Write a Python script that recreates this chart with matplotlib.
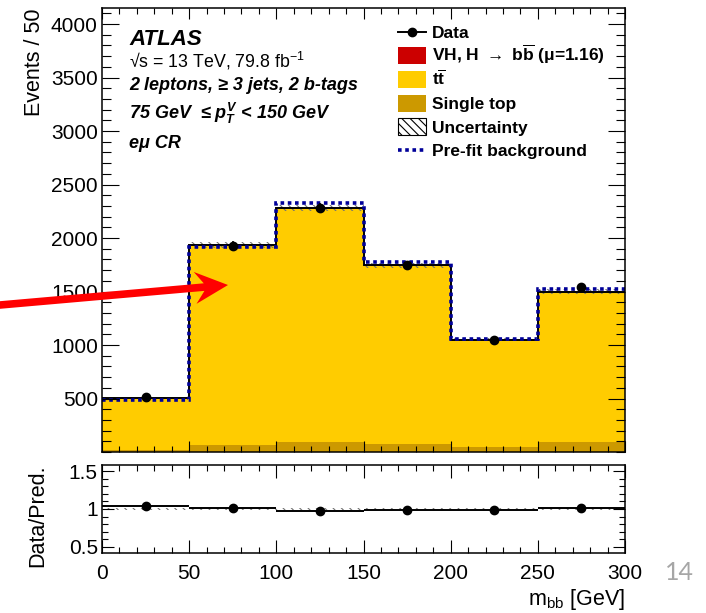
import numpy as np
import matplotlib
matplotlib.use('Agg')
import matplotlib.pyplot as plt
from matplotlib.patches import Rectangle, Polygon
from matplotlib.lines import Line2D
from matplotlib.ticker import MultipleLocator

plt.rcParams['font.family'] = ['Liberation Sans', 'DejaVu Sans']
plt.rcParams['mathtext.fontset'] = 'custom'
plt.rcParams['mathtext.rm'] = 'Liberation Sans'
plt.rcParams['mathtext.it'] = 'Liberation Sans:italic:bold'
plt.rcParams['mathtext.bf'] = 'Liberation Sans:bold'
plt.rcParams['hatch.linewidth'] = 0.8

# m_bb bins and yields
edges = np.array([0, 50, 100, 150, 200, 250, 300])
data = np.array([512, 1930, 2279, 1745, 1048, 1540])
single_top = np.array([15, 70, 95, 76, 45, 98])
ttbar = np.array([489, 1863, 2184, 1666, 1000, 1399])
signal = np.array([2, 3, 3, 3, 3, 3])
unc = np.array([10, 25, 30, 25, 15, 20])
prefit = np.array([490, 1914, 2332, 1774, 1058, 1525])
ratio = np.array([1.035, 1.01, 0.977, 0.986, 0.986, 1.018])
ratio_unc = np.array([0.015, 0.015, 0.015, 0.015, 0.015, 0.015])

W, H = 706, 613
def fx(x): return x / W
def fy(y): return 1 - y / H

c_tt = '#ffcc00'
c_st = '#cc9900'
c_vh = '#cc0000'
c_pre = '#000099'

fig = plt.figure(figsize=(W/100, H/100), dpi=100)
ax = fig.add_axes([fx(102), fy(452), 523/W, 444/H])
rx = fig.add_axes([fx(102), fy(553), 523/W, 88/H])

centers = 0.5*(edges[1:] + edges[:-1])
total = single_top + ttbar + signal

# stack
ax.stairs(single_top, edges, baseline=0, fill=True, color=c_st, lw=0)
ax.stairs(single_top + ttbar, edges, baseline=single_top, fill=True, color=c_tt, lw=0)
ax.stairs(total, edges, baseline=single_top + ttbar, fill=True, color=c_vh, lw=0)
ax.stairs(total + unc, edges, baseline=total - unc, fill=True, facecolor='none',
          edgecolor='0.45', hatch='\\\\\\\\', lw=0)
ax.stairs(total, edges, baseline=None, color='black', lw=1.4)
ax.stairs(prefit, edges, baseline=None, color=c_pre, lw=2.6, ls=(0, (1, 1)))
ax.errorbar(centers, data, yerr=np.sqrt(data), fmt='o', color='black', ms=6, lw=1.2, zorder=5)

ax.set_xlim(0, 300)
ax.set_ylim(0, 4150)
ax.set_yticks(np.arange(500, 4001, 500))
ax.yaxis.set_minor_locator(MultipleLocator(100))
ax.xaxis.set_major_locator(MultipleLocator(50))
ax.xaxis.set_minor_locator(MultipleLocator(10))
ax.tick_params(labelbottom=False)

# ratio panel
rx.stairs(1 + ratio_unc, edges, baseline=1 - ratio_unc, fill=True, facecolor='none',
          edgecolor='0.45', hatch='\\\\\\\\', lw=0)
rx.errorbar(centers, ratio, xerr=25, yerr=np.sqrt(data)/total, fmt='o', color='black',
            ms=6, lw=1.4, zorder=5)
rx.set_xlim(0, 300)
rx.set_ylim(0.42, 1.58)
rx.set_yticks([0.5, 1, 1.5], labels=['0.5', '1', '1.5'])
rx.yaxis.set_minor_locator(MultipleLocator(0.1))
rx.xaxis.set_major_locator(MultipleLocator(50))
rx.xaxis.set_minor_locator(MultipleLocator(10))

for a in (ax, rx):
    a.tick_params(which='both', direction='in', top=True, right=True, width=0.8,
                  labelsize=15)
    for s in a.spines.values():
        s.set_linewidth(1.1)
ax.tick_params(axis='y', which='major', length=12, pad=3)
ax.tick_params(axis='y', which='minor', length=6.5)
ax.tick_params(axis='x', which='major', length=8)
ax.tick_params(axis='x', which='minor', length=4)
rx.tick_params(axis='y', which='major', length=8.6, pad=3)
rx.tick_params(axis='y', which='minor', length=4.3)
rx.tick_params(axis='x', which='major', length=9.4, pad=8)
rx.tick_params(axis='x', which='minor', length=4.3)

fig.text(fx(34), fy(8), 'Events / 50', rotation=90, ha='center', va='top', fontsize=15.5)
fig.text(fx(38), fy(516), 'Data/Pred.', rotation=90, ha='center', va='center', fontsize=15.5)
fig.text(fx(625), fy(605), r'm$_{\mathrm{bb}}$ [GeV]', ha='right', va='baseline', fontsize=15.5)

# ATLAS labels
fig.text(fx(129), fy(45), 'ATLAS', fontsize=16, fontweight='bold', style='italic')
fig.text(fx(129), fy(68), r'√s = 13 TeV, 79.8 fb$^{\mathrm{-1}}$', fontsize=12.8)
fig.text(fx(129), fy(90), '2 leptons, ≥ 3 jets, 2 b-tags', fontsize=13,
         fontweight='bold', style='italic')
fig.text(fx(129), fy(118.5), r'75 GeV  ≤ $p_{T}^{V}$ < 150 GeV', fontsize=13,
         fontweight='bold', style='italic')
fig.text(fx(129), fy(148), 'eμ CR', fontsize=13, fontweight='bold', style='italic')

# legend
leg_labels = ['Data', r'VH, H $\rightarrow$ $\mathbf{b}\overline{\mathbf{b}}$ (μ=1.16)',
              r'$\mathbf{t}\overline{\mathbf{t}}$',
              'Single top', 'Uncertainty', 'Pre-fit background']
leg_y = [31.5, 55.5, 79.2, 103, 126.7, 150.4]
for lab, yc in zip(leg_labels, leg_y):
    fig.text(fx(432), fy(yc + 6), lab, fontsize=12.5, fontweight='bold', va='baseline')
fig.add_artist(Line2D([fx(398), fx(426)], [fy(leg_y[0])]*2, color='black', lw=1.4))
fig.add_artist(Line2D([fx(412)], [fy(leg_y[0])], marker='o', ms=6, color='black'))
for yc, col in zip(leg_y[1:4], [c_vh, c_tt, c_st]):
    fig.add_artist(Rectangle((fx(398), fy(yc + 8.5)), 28/W, 17/H, transform=fig.transFigure,
                             facecolor=col, edgecolor='none'))
fig.add_artist(Rectangle((fx(398), fy(leg_y[4] + 8.5)), 28/W, 17/H, transform=fig.transFigure,
                         facecolor='white', edgecolor='black', hatch='\\\\\\\\', lw=0.8))
fig.add_artist(Line2D([fx(398), fx(426)], [fy(leg_y[5])]*2, color=c_pre, lw=2.6, ls=(0, (1, 1))))

# red arrow drawn over the slide
tip = np.array([228.0, 285.0])
u = np.array([228.0, -20.0]); u /= np.linalg.norm(u)
n = np.array([-u[1], u[0]])
back = tip - 33*u
notch = tip - 24*u
tail = tip - 240*u
pts = [tail - 3.8*n, notch - 3.8*n, back - 16*n, tip, back + 16*n, notch + 3.8*n, tail + 3.8*n]
fig.add_artist(Polygon([(fx(p[0]), fy(p[1])) for p in pts], closed=True,
                       transform=fig.transFigure, facecolor='#ff0000', edgecolor='none', zorder=10))

fig.text(fx(679), fy(572), '14', ha='center', va='center', fontsize=18, color='#a6a6a6',
         family='Lato')

fig.savefig('out.png', dpi=100)
